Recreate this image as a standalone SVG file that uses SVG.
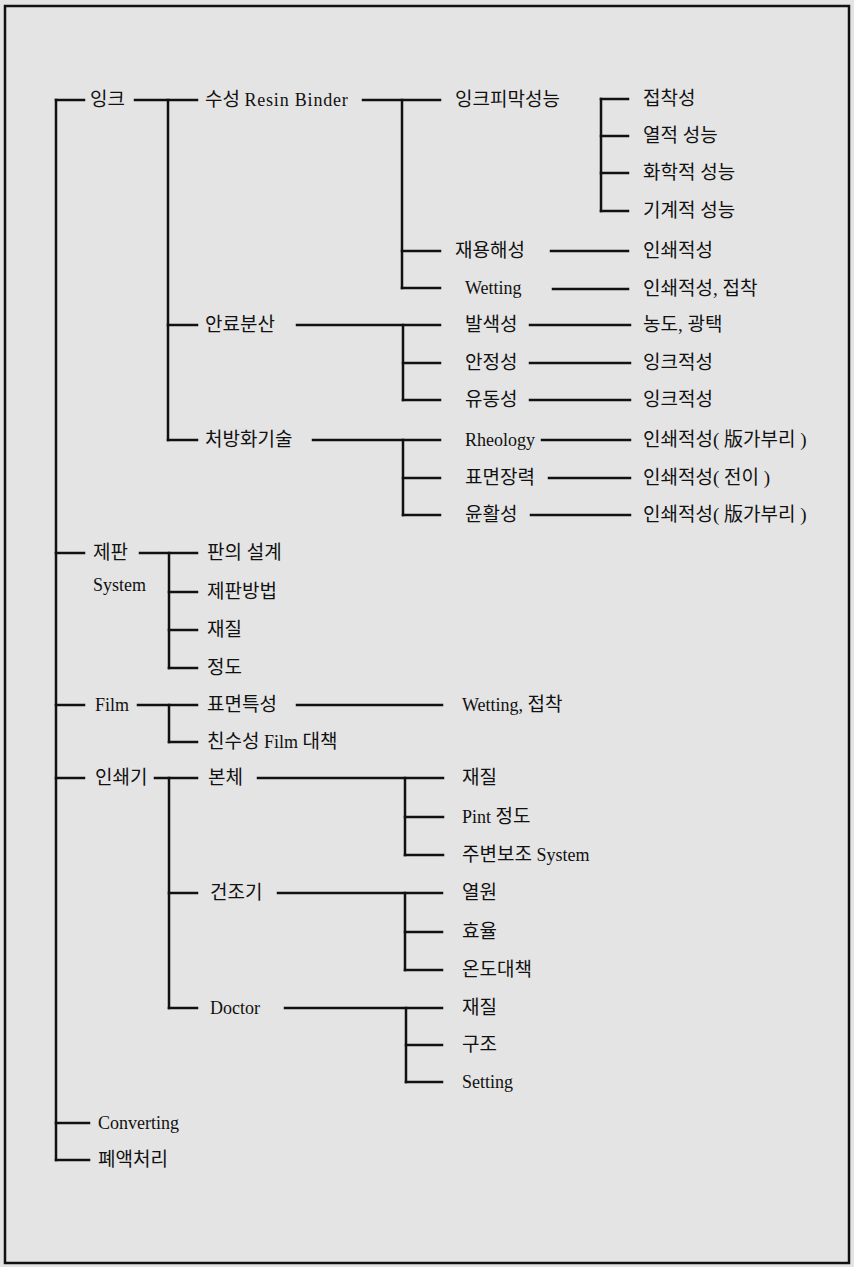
<svg xmlns="http://www.w3.org/2000/svg" width="854" height="1267" viewBox="0 0 854 1267">
<style>
.t{font-family:"Liberation Serif","Noto Sans CJK KR",serif;font-size:18px;fill:#111}
.t .k,.k{font-size:19px}
.c line{stroke:#111;stroke-width:2.5;stroke-linecap:square}
</style>
<rect x="0" y="0" width="854" height="1267" fill="#e4e4e4"/>
<rect x="5" y="6" width="844" height="1257" fill="none" stroke="#111" stroke-width="2.5"/>
<g class="c" id="connectors">
<line x1="56" y1="100" x2="56" y2="1160"/>
<line x1="56" y1="100" x2="84" y2="100"/>
<line x1="56" y1="553" x2="84" y2="553"/>
<line x1="56" y1="705" x2="84" y2="705"/>
<line x1="56" y1="778" x2="84" y2="778"/>
<line x1="56" y1="1123" x2="89" y2="1123"/>
<line x1="56" y1="1160" x2="89" y2="1160"/>
<line x1="135" y1="100" x2="197" y2="100"/>
<line x1="168" y1="100" x2="168" y2="440"/>
<line x1="168" y1="325" x2="197" y2="325"/>
<line x1="168" y1="440" x2="197" y2="440"/>
<line x1="363" y1="100" x2="440" y2="100"/>
<line x1="402" y1="100" x2="402" y2="288"/>
<line x1="402" y1="251" x2="440" y2="251"/>
<line x1="402" y1="288" x2="440" y2="288"/>
<line x1="601" y1="99" x2="601" y2="211"/>
<line x1="601" y1="99" x2="628" y2="99"/>
<line x1="601" y1="136" x2="628" y2="136"/>
<line x1="601" y1="173" x2="628" y2="173"/>
<line x1="601" y1="211" x2="628" y2="211"/>
<line x1="551" y1="251" x2="628" y2="251"/>
<line x1="553" y1="289" x2="628" y2="289"/>
<line x1="297" y1="325" x2="440" y2="325"/>
<line x1="403" y1="325" x2="403" y2="400"/>
<line x1="403" y1="363" x2="440" y2="363"/>
<line x1="403" y1="400" x2="440" y2="400"/>
<line x1="530" y1="325" x2="630" y2="325"/>
<line x1="530" y1="363" x2="630" y2="363"/>
<line x1="530" y1="400" x2="630" y2="400"/>
<line x1="313" y1="440" x2="440" y2="440"/>
<line x1="403" y1="440" x2="403" y2="515"/>
<line x1="403" y1="478" x2="440" y2="478"/>
<line x1="403" y1="515" x2="440" y2="515"/>
<line x1="542" y1="440" x2="630" y2="440"/>
<line x1="549" y1="478" x2="630" y2="478"/>
<line x1="531" y1="515" x2="630" y2="515"/>
<line x1="140" y1="553" x2="197" y2="553"/>
<line x1="169" y1="553" x2="169" y2="668"/>
<line x1="169" y1="592" x2="197" y2="592"/>
<line x1="169" y1="630" x2="197" y2="630"/>
<line x1="169" y1="668" x2="197" y2="668"/>
<line x1="138" y1="705" x2="197" y2="705"/>
<line x1="169" y1="705" x2="169" y2="742"/>
<line x1="169" y1="742" x2="197" y2="742"/>
<line x1="297" y1="705" x2="442" y2="705"/>
<line x1="155" y1="778" x2="197" y2="778"/>
<line x1="169" y1="778" x2="169" y2="1008"/>
<line x1="169" y1="893" x2="197" y2="893"/>
<line x1="169" y1="1008" x2="197" y2="1008"/>
<line x1="258" y1="778" x2="443" y2="778"/>
<line x1="405" y1="778" x2="405" y2="855"/>
<line x1="405" y1="817" x2="443" y2="817"/>
<line x1="405" y1="855" x2="443" y2="855"/>
<line x1="278" y1="893" x2="442" y2="893"/>
<line x1="405" y1="893" x2="405" y2="970"/>
<line x1="405" y1="932" x2="442" y2="932"/>
<line x1="405" y1="970" x2="442" y2="970"/>
<line x1="285" y1="1008" x2="442" y2="1008"/>
<line x1="406" y1="1008" x2="406" y2="1082"/>
<line x1="406" y1="1045" x2="442" y2="1045"/>
<line x1="406" y1="1082" x2="442" y2="1082"/>
</g>
<g id="n-ink"><text class="t k" x="90" y="106">잉크</text></g>
<g id="n-resin"><text class="t" x="205" y="106"><tspan class="k">수성</tspan> <tspan letter-spacing="0.8">Resin Binder</tspan></text></g>
<g id="n-film-perf"><text class="t k" x="455" y="106">잉크피막성능</text></g>
<g id="n-adh"><text class="t k" x="643" y="105">접착성</text></g>
<g id="n-heat"><text class="t k" x="643" y="142">열적 성능</text></g>
<g id="n-chem"><text class="t k" x="643" y="179">화학적 성능</text></g>
<g id="n-mech"><text class="t k" x="643" y="217">기계적 성능</text></g>
<g id="n-redis"><text class="t k" x="455" y="257">재용해성</text></g>
<g id="n-redis-r"><text class="t k" x="643" y="257">인쇄적성</text></g>
<g id="n-wet"><text class="t" x="465" y="294">Wetting</text></g>
<g id="n-wet-r"><text class="t k" x="643" y="295">인쇄적성, 접착</text></g>
<g id="n-pigment"><text class="t k" x="205" y="331">안료분산</text></g>
<g id="n-color"><text class="t k" x="465" y="331">발색성</text></g>
<g id="n-color-r"><text class="t k" x="643" y="331">농도, 광택</text></g>
<g id="n-stab"><text class="t k" x="465" y="369">안정성</text></g>
<g id="n-stab-r"><text class="t k" x="643" y="369">잉크적성</text></g>
<g id="n-flow"><text class="t k" x="465" y="406">유동성</text></g>
<g id="n-flow-r"><text class="t k" x="643" y="406">잉크적성</text></g>
<g id="n-formul"><text class="t k" x="205" y="446">처방화기술</text></g>
<g id="n-rheo"><text class="t" x="465" y="446">Rheology</text></g>
<g id="n-rheo-r"><text class="t k" x="643" y="446">인쇄적성( 版가부리 )</text></g>
<g id="n-tension"><text class="t k" x="465" y="484">표면장력</text></g>
<g id="n-tension-r"><text class="t k" x="643" y="484">인쇄적성( 전이 )</text></g>
<g id="n-lub"><text class="t k" x="465" y="521">윤활성</text></g>
<g id="n-lub-r"><text class="t k" x="643" y="521">인쇄적성( 版가부리 )</text></g>
<g id="n-plate"><text class="t k" x="93" y="559">제판</text><text class="t" x="93" y="591">System</text></g>
<g id="n-plate-design"><text class="t k" x="207" y="559">판의 설계</text></g>
<g id="n-plate-method"><text class="t k" x="207" y="598">제판방법</text></g>
<g id="n-plate-mat"><text class="t k" x="207" y="636">재질</text></g>
<g id="n-plate-prec"><text class="t k" x="207" y="674">정도</text></g>
<g id="n-film"><text class="t" x="95" y="711">Film</text></g>
<g id="n-surface"><text class="t k" x="207" y="711">표면특성</text></g>
<g id="n-surface-r"><text class="t" x="462" y="711">Wetting, <tspan class="k">접착</tspan></text></g>
<g id="n-hydro"><text class="t" x="207" y="748"><tspan class="k">친수성</tspan> Film <tspan class="k">대책</tspan></text></g>
<g id="n-press"><text class="t k" x="95" y="784">인쇄기</text></g>
<g id="n-body"><text class="t k" x="208" y="784">본체</text></g>
<g id="n-body-mat"><text class="t k" x="462" y="784">재질</text></g>
<g id="n-body-pint"><text class="t" x="462" y="823">Pint <tspan class="k">정도</tspan></text></g>
<g id="n-body-aux"><text class="t" x="462" y="861"><tspan class="k">주변보조</tspan> System</text></g>
<g id="n-dryer"><text class="t k" x="210" y="899">건조기</text></g>
<g id="n-heat-src"><text class="t k" x="462" y="899">열원</text></g>
<g id="n-eff"><text class="t k" x="462" y="938">효율</text></g>
<g id="n-temp"><text class="t k" x="462" y="976">온도대책</text></g>
<g id="n-doctor"><text class="t" x="210" y="1014">Doctor</text></g>
<g id="n-doc-mat"><text class="t k" x="462" y="1014">재질</text></g>
<g id="n-doc-struct"><text class="t k" x="462" y="1051">구조</text></g>
<g id="n-doc-set"><text class="t" x="462" y="1088">Setting</text></g>
<g id="n-conv"><text class="t" x="98" y="1129">Converting</text></g>
<g id="n-waste"><text class="t k" x="98" y="1166">폐액처리</text></g>
</svg>
